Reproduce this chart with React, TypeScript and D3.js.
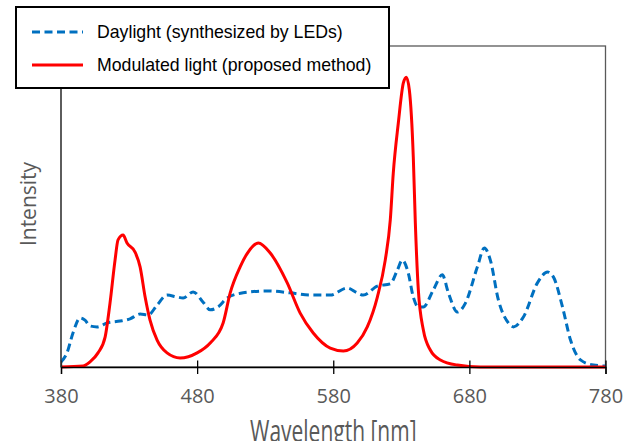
import React, { useEffect, useRef } from 'react';
import * as d3 from 'd3';

// wavelength [nm] / relative intensity
const daylightWl = [380, 384.4, 388.8, 394, 397.6, 401.3, 406.5, 413.8, 423.4, 430.7, 438.1, 444, 450.6, 457.9, 465.3, 469.7, 477.1, 484.4, 489.6, 495.4, 502.1, 513.8, 531.5, 548.4, 563.1, 577.8, 590.3, 597.6, 602.1, 612.4, 621.9, 627.1, 630.7, 635.1, 638.8, 642.5, 646.2, 653.5, 660.1, 664.6, 671.2, 677.1, 685.9, 691, 695.4, 701.3, 708.7, 712.4, 719.7, 730, 737.4, 741.8, 748.4, 754.3, 761.6, 771.2, 780];
const daylightVal = [1.6, 4.4, 10.6, 15.3, 14.6, 12.8, 12.5, 13.7, 14.3, 15.0, 16.5, 16.2, 19.3, 22.4, 21.8, 21.5, 23.4, 20.2, 17.8, 18.7, 21.5, 23.1, 23.7, 23.1, 22.4, 22.4, 24.6, 23.1, 22.4, 25.2, 25.9, 30.2, 33.3, 29.3, 21.8, 18.7, 18.7, 24.0, 28.7, 23.1, 17.1, 19.9, 31.2, 37.1, 33.3, 20.9, 13.7, 12.5, 15.6, 26.2, 29.6, 28.0, 18.7, 8.4, 2.2, 0.6, 0.3];

const modulatedWl = [380, 396.2, 401.3, 407.2, 412.4, 416, 419.7, 421.9, 425.6, 428.5, 434.4, 438.1, 441.8, 445.4, 450.6, 457.9, 467.5, 480, 489.6, 499.1, 504.3, 511.6, 517, 524.9, 533.7, 546.2, 555.7, 565.3, 577.8, 587.4, 597.6, 605, 612.4, 618.2, 621.9, 624.1, 627.8, 631.5, 633.7, 635.9, 638.8, 640.3, 642.5, 646.2, 651.3, 658.7, 671.2, 688, 780];
const modulatedVal = [0, 0.3, 1.6, 4.4, 9.3, 19.9, 33.3, 39.6, 41.1, 38.6, 35.8, 31.2, 21.8, 14.6, 8.4, 4.4, 2.8, 4.4, 7.5, 13.7, 23.1, 31.2, 35.5, 38.6, 35.5, 26.2, 16.8, 10.6, 5.9, 5.0, 7.5, 12.5, 21.8, 33.3, 45.8, 60.4, 76.0, 88.5, 90.3, 86.3, 65.4, 44.9, 24.0, 11.5, 5.3, 2.2, 0.6, 0, 0];

const xTicks = [380, 480, 580, 680, 780];
const legendLabels = ['Daylight (synthesized by LEDs)', 'Modulated light (proposed method)'];

const App = () => {
  const ref = useRef<SVGSVGElement>(null);

  useEffect(() => {
    const svg = d3.select(ref.current);
    svg.selectAll('*').remove();

    const left = 61, right = 605.5, top = 46, bottom = 367;
    const grey = '#595959';
    const tickFont = '"Open Sans", sans-serif';

    const x = d3.scaleLinear().domain([380, 780]).range([left, right]);
    const y = d3.scaleLinear().domain([0, 100]).range([bottom, top]);

    // plot frame
    svg.append('rect')
      .attr('x', left).attr('y', top)
      .attr('width', right - left).attr('height', bottom - top)
      .attr('fill', 'none').attr('stroke', grey).attr('stroke-width', 1.3);

    const line = d3.line<[number, number]>()
      .x(d => x(d[0]))
      .y(d => y(d[1]))
      .curve(d3.curveMonotoneX);

    const daylight = daylightWl.map((w, i) => [w, daylightVal[i]] as [number, number]);
    const modulated = modulatedWl.map((w, i) => [w, modulatedVal[i]] as [number, number]);

    svg.append('path')
      .datum(daylight)
      .attr('fill', 'none')
      .attr('stroke', '#0070C0')
      .attr('stroke-width', 3)
      .attr('stroke-dasharray', '8,4.5')
      .attr('d', line);

    svg.append('path')
      .datum(modulated)
      .attr('fill', 'none')
      .attr('stroke', '#FF0000')
      .attr('stroke-width', 3)
      .attr('d', line);

    // x axis
    const gx = svg.append('g')
      .attr('transform', `translate(0,${bottom})`)
      .call(d3.axisBottom(x).tickValues(xTicks).tickSizeOuter(0).tickSize(7));
    gx.select('.domain').attr('stroke', '#000').attr('stroke-width', 1.3);
    gx.selectAll('.tick line').attr('y1', -6.5).attr('y2', 7).attr('stroke', '#000').attr('stroke-width', 1.3);
    gx.selectAll('.tick text')
      .attr('y', 36).attr('dy', null)
      .attr('fill', grey)
      .style('font-family', tickFont)
      .style('font-size', '20px');

    // y axis line
    svg.append('line')
      .attr('x1', left).attr('x2', left)
      .attr('y1', top).attr('y2', bottom)
      .attr('stroke', '#404040').attr('stroke-width', 1.3);

    // axis titles (x title runs off the bottom edge, as in the source image)
    svg.append('text')
      .attr('transform', `translate(${(left + right) / 2},442) scale(1,1.45)`)
      .attr('text-anchor', 'middle')
      .attr('fill', grey)
      .style('font-family', tickFont)
      .style('font-size', '21px')
      .text('Wavelength [nm]');

    svg.append('text')
      .attr('transform', `translate(36,204) rotate(-90)`)
      .attr('text-anchor', 'middle')
      .attr('fill', grey)
      .style('font-family', tickFont)
      .style('font-size', '21px')
      .text('Intensity');

    // legend
    const lg = svg.append('g');
    lg.append('rect')
      .attr('x', 16).attr('y', 7)
      .attr('width', 373).attr('height', 81)
      .attr('fill', '#fff').attr('stroke', '#000').attr('stroke-width', 2);

    const styles = [
      { color: '#0070C0', dash: '8,4.5', ly: 32 },
      { color: '#FF0000', dash: null, ly: 65 },
    ];
    styles.forEach((s, i) => {
      lg.append('line')
        .attr('x1', 32).attr('x2', 83)
        .attr('y1', s.ly).attr('y2', s.ly)
        .attr('stroke', s.color).attr('stroke-width', 3)
        .attr('stroke-dasharray', s.dash);
      lg.append('text')
        .attr('x', 97).attr('y', s.ly + 6)
        .attr('fill', '#000')
        .style('font-family', '"Liberation Sans", Arial, sans-serif')
        .style('font-size', '17.7px')
        .text(legendLabels[i]);
    });
  }, []);

  return (
    <svg ref={ref} width={636} height={441} style={{ position: 'absolute', left: 0, top: 0, background: '#fff' }} />
  );
};

export default App;
